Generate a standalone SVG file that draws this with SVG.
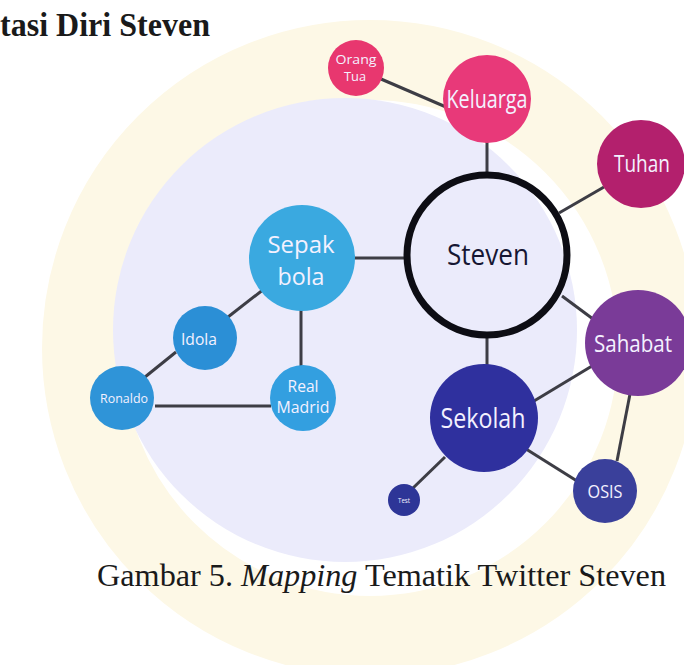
<svg xmlns="http://www.w3.org/2000/svg" width="684" height="665" viewBox="0 0 684 665">
<style>
.lbl{font-family:"Open Sans","Noto Sans",sans-serif;fill:#f4f1ff;text-anchor:middle}
.edge{stroke:#3d3d45;stroke-width:3;fill:none}
.doc{font-family:"Liberation Serif","Times New Roman",serif;fill:#1a1a1a}
</style>
<rect width="684" height="665" fill="#ffffff"/>
<g id="watermark">
<circle cx="370" cy="348" r="288" fill="none" stroke="#fdf8e6" stroke-width="80"/>
<circle cx="345" cy="330" r="232" fill="#ebebfb"/>
</g>
<text class="doc" x="0" y="36" font-size="33" font-weight="bold" textLength="210" lengthAdjust="spacingAndGlyphs">tasi Diri Steven</text>
<g id="connectors">
<line class="edge" x1="381" y1="79" x2="446" y2="107"/>
<line class="edge" x1="487" y1="142" x2="487" y2="175"/>
<line class="edge" x1="604" y1="187" x2="559" y2="213"/>
<line class="edge" x1="354" y1="258" x2="407" y2="258"/>
<line class="edge" x1="264" y1="289" x2="228" y2="317"/>
<line class="edge" x1="301" y1="310" x2="301" y2="366"/>
<line class="edge" x1="176" y1="352" x2="145" y2="377"/>
<line class="edge" x1="155" y1="406" x2="271" y2="406"/>
<line class="edge" x1="487" y1="336" x2="487" y2="366"/>
<line class="edge" x1="562" y1="296" x2="593" y2="319"/>
<line class="edge" x1="592" y1="366" x2="534" y2="401"/>
<line class="edge" x1="630" y1="394" x2="617" y2="461"/>
<line class="edge" x1="526" y1="449" x2="577" y2="481"/>
<line class="edge" x1="445" y1="457" x2="412" y2="489"/>
</g>
<g id="orangtua"><circle cx="356" cy="68" r="28" fill="#e8376f"/><text class="lbl" x="356" y="64" font-size="13" textLength="41" lengthAdjust="spacingAndGlyphs">Orang</text><text class="lbl" x="355" y="81" font-size="13" textLength="22" lengthAdjust="spacingAndGlyphs">Tua</text></g>
<g id="keluarga"><circle cx="487" cy="99" r="44" fill="#e83979"/><text class="lbl" x="487" y="108" font-size="25" textLength="81" lengthAdjust="spacingAndGlyphs">Keluarga</text></g>
<g id="tuhan"><circle cx="641" cy="164" r="44" fill="#b3206d"/><text class="lbl" x="642" y="172" font-size="23" textLength="56" lengthAdjust="spacingAndGlyphs">Tuhan</text></g>
<g id="steven"><circle cx="487" cy="255" r="80" fill="none" stroke="#0d0d14" stroke-width="7"/><text x="488" y="265" font-size="30" text-anchor="middle" font-family="'Open Sans','Noto Sans',sans-serif" fill="#161633" textLength="82" lengthAdjust="spacingAndGlyphs">Steven</text></g>
<g id="sepakbola"><circle cx="302" cy="258" r="53" fill="#3aa9e0"/><text class="lbl" x="301" y="253" font-size="24" textLength="67" lengthAdjust="spacingAndGlyphs">Sepak</text><text class="lbl" x="301" y="285" font-size="24" textLength="47" lengthAdjust="spacingAndGlyphs">bola</text></g>
<g id="idola"><circle cx="205" cy="338" r="32" fill="#2b8fd6"/><text class="lbl" x="199" y="345" font-size="17" textLength="36" lengthAdjust="spacingAndGlyphs">Idola</text></g>
<g id="ronaldo"><circle cx="122" cy="398" r="32" fill="#2f94d8"/><text class="lbl" x="124" y="403" font-size="13" textLength="48" lengthAdjust="spacingAndGlyphs">Ronaldo</text></g>
<g id="realmadrid"><circle cx="303" cy="398" r="33" fill="#339fe0"/><text class="lbl" x="303" y="392" font-size="17" textLength="31" lengthAdjust="spacingAndGlyphs">Real</text><text class="lbl" x="303" y="413" font-size="17" textLength="53" lengthAdjust="spacingAndGlyphs">Madrid</text></g>
<g id="sahabat"><circle cx="638" cy="343" r="53" fill="#7a3b98"/><text class="lbl" x="633" y="352" font-size="23" fill="#f3e6f0" textLength="78" lengthAdjust="spacingAndGlyphs">Sahabat</text></g>
<g id="sekolah"><circle cx="484" cy="418" r="54" fill="#2f309e"/><text class="lbl" x="483" y="428" font-size="27" textLength="85" lengthAdjust="spacingAndGlyphs">Sekolah</text></g>
<g id="test"><circle cx="404" cy="500" r="16" fill="#2d3597"/><text class="lbl" x="404" y="503" font-size="8" textLength="12" lengthAdjust="spacingAndGlyphs">Test</text></g>
<g id="osis"><circle cx="605" cy="491" r="32" fill="#3a409b"/><text class="lbl" x="605" y="498" font-size="18" textLength="35" lengthAdjust="spacingAndGlyphs">OSIS</text></g>
<text class="doc" x="97" y="586" font-size="32" textLength="569" lengthAdjust="spacingAndGlyphs">Gambar 5. <tspan font-style="italic">Mapping</tspan> Tematik Twitter Steven</text>
</svg>
